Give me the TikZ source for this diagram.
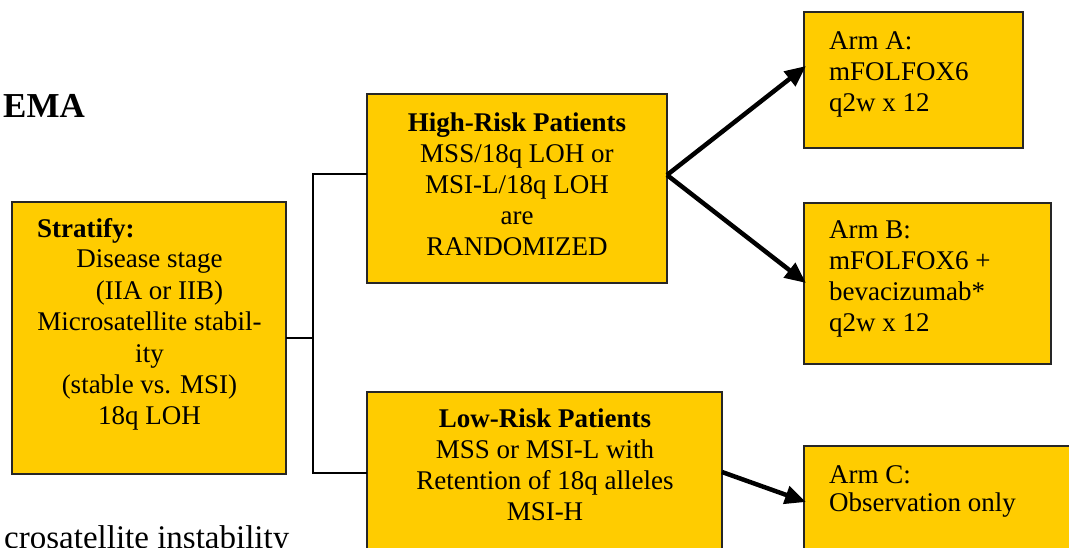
\documentclass[tikz,border=0pt]{standalone}
\usepackage{fontspec}
\setmainfont{Liberation Serif}
\usetikzlibrary{arrows.meta}
\definecolor{boxfill}{RGB}{255,204,0}
\begin{document}
\begin{tikzpicture}[x=1pt,y=-1pt,
  boxstyle/.style={draw=black!85, line width=1.2pt, fill=boxfill},
  txt/.style={inner sep=0pt, anchor=base, font=\fontsize{27}{31}\selectfont},
  armtxt/.style={inner sep=0pt, anchor=base west, font=\fontsize{27}{31}\selectfont},
  elbow/.style={line width=2.5pt},
  arr/.style={line width=4.5pt, -{Triangle[length=21pt,width=18pt]}}]
\useasboundingbox (0,0) rectangle (1069,548);
\clip (0,0) rectangle (1069,548);
% boxes
\draw[boxstyle] (12,202) rectangle (286,474);
\coordinate (stratE) at (286,338);
\draw[boxstyle] (367,94) rectangle (667,283);
\coordinate (hiW) at (367,174);
\coordinate (hiE) at (667,175);
\draw[boxstyle] (367,392) rectangle (722,560);
\coordinate (loW) at (367,473);
\coordinate (loE) at (722,472);
\draw[boxstyle] (804,12) rectangle (1023,148);
\coordinate (aW) at (806,66);
\draw[boxstyle] (804,203) rectangle (1051,364);
\coordinate (bW) at (806,283);
\draw[boxstyle] (804,446) rectangle (1080,560);
\coordinate (cW) at (806,502);
% texts
\node[inner sep=0pt, anchor=base west, font=\fontsize{35}{40}\selectfont\bfseries] (ema) at (3,118) {EMA};
\node[inner sep=0pt, anchor=base west, font=\fontsize{33}{38}\selectfont] (bot) at (4,548) {crosatellite instability};
\node[inner sep=0pt, anchor=base west, font=\fontsize{27}{31}\selectfont\bfseries] (strath) at (37,238) {Stratify:};
\node[txt, font=\fontsize{27}{31.4}\selectfont] (stratt) at (149.5,268) {\begin{tabular}[t]{@{}c@{}}Disease stage\\ \hspace*{20pt}(IIA or IIB)\\ Microsatellite stabil-\\ ity\\ (stable vs. MSI)\\ 18q LOH\end{tabular}};
\node[txt] (hit) at (517,132) {\begin{tabular}[t]{@{}c@{}}\textbf{High-Risk Patients}\\ MSS/18q LOH or\\ MSI-L/18q LOH\\ are\\ RANDOMIZED\end{tabular}};
\node[txt] (lot) at (545,427) {\begin{tabular}[t]{@{}c@{}}\textbf{Low-Risk Patients}\\ MSS or MSI-L with\\ Retention of 18q alleles\\ MSI-H\end{tabular}};
\node[armtxt] (at) at (829,50) {\begin{tabular}[t]{@{}l@{}}Arm A:\\ mFOLFOX6\\ q2w x 12\end{tabular}};
\node[armtxt] (bt) at (829,239) {\begin{tabular}[t]{@{}l@{}}Arm B:\\ mFOLFOX6 +\\ bevacizumab*\\ q2w x 12\end{tabular}};
\node[armtxt, font=\fontsize{27}{28}\selectfont] (ct) at (829,483) {\begin{tabular}[t]{@{}l@{}}Arm C:\\ Observation only\end{tabular}};
% connectors
\coordinate (jt) at (313,174);
\coordinate (jb) at (313,473);
\draw[elbow] (stratE) -- (stratE -| jt);
\draw[elbow] (hiW) -- (jt) -- (jb) -- (loW);
\draw[arr] (hiE) -- (aW);
\draw[arr] (hiE) -- (bW);
\draw[arr] (loE) -- (cW);
\end{tikzpicture}
\end{document}
